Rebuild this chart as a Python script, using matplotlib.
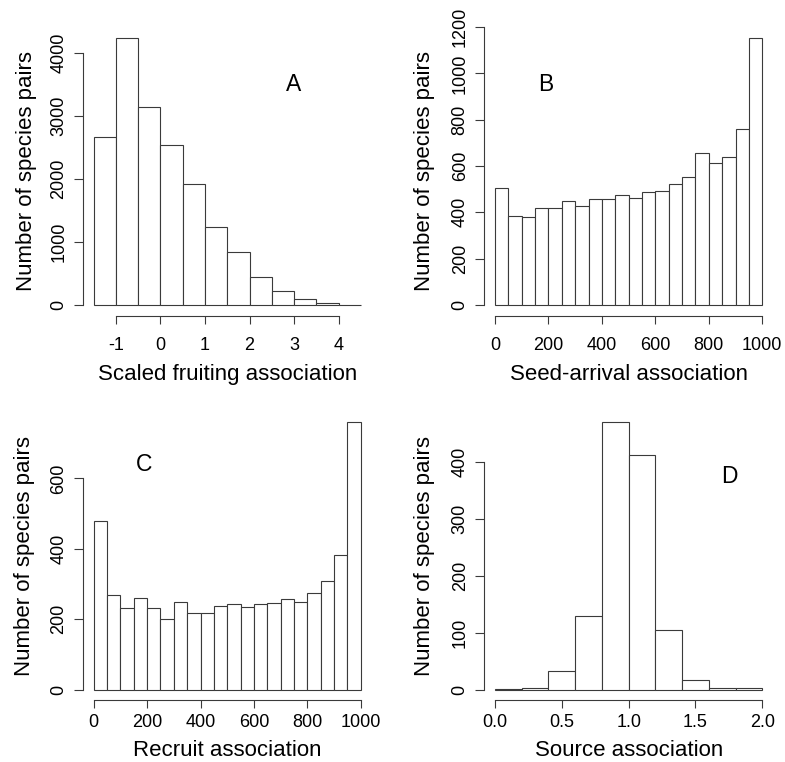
import matplotlib
matplotlib.use("Agg")
import matplotlib.pyplot as plt
import numpy as np
from matplotlib.transforms import ScaledTranslation

plt.rcParams['font.family'] = ['Liberation Sans', 'DejaVu Sans']
plt.rcParams['axes.unicode_minus'] = False

# histogram bins and counts
fruit_edges = [-1.5, -1.0, -0.5, 0.0, 0.5, 1.0, 1.5, 2.0, 2.5, 3.0, 3.5, 4.0, 4.5]
fruit_counts = [2658, 4236, 3143, 2531, 1913, 1231, 840, 439, 222, 90, 27, 5]

seed_edges = [0, 50, 100, 150, 200, 250, 300, 350, 400, 450, 500,
              550, 600, 650, 700, 750, 800, 850, 900, 950, 1000]
seed_counts = [503, 385, 381, 420, 417, 451, 427, 456, 457, 473,
               463, 490, 494, 522, 553, 657, 612, 637, 759, 1154]

recruit_edges = [0, 50, 100, 150, 200, 250, 300, 350, 400, 450, 500,
                 550, 600, 650, 700, 750, 800, 850, 900, 950, 1000]
recruit_counts = [478, 268, 231, 261, 232, 201, 249, 218, 217, 238,
                  242, 236, 243, 245, 258, 250, 273, 309, 383, 761]

source_edges = [0.0, 0.2, 0.4, 0.6, 0.8, 1.0, 1.2, 1.4, 1.6, 1.8, 2.0]
source_counts = [1, 3, 33, 129, 470, 411, 104, 17, 2, 3]

fruit_xticks = [-1, 0, 1, 2, 3, 4]
fruit_yticks = [0, 1000, 2000, 3000, 4000]
seed_xticks = [0, 200, 400, 600, 800, 1000]
seed_yticks = [0, 200, 400, 600, 800, 1000, 1200]
recruit_xticks = [0, 200, 400, 600, 800, 1000]
recruit_yticks = [0, 200, 400, 600]
source_xticks = [0.0, 0.5, 1.0, 1.5, 2.0]
source_xticklabels = ['0.0', '0.5', '1.0', '1.5', '2.0']
source_yticks = [0, 100, 200, 300, 400]

xlabels = ['Scaled fruiting association', 'Seed-arrival association',
           'Recruit association', 'Source association']
ylabel = 'Number of species pairs'
letters = ['A', 'B', 'C', 'D']
letter_pos = [(3.0, 3500), (190, 950), (190, 640), (1.75, 374)]

W, H = 785, 762
fig = plt.figure(figsize=(W / 100, H / 100), dpi=100)

# plot regions in pixels: left, top, right, bottom
boxes = [(83, 27, 371.5, 315.7), (484.3, 27, 773, 315.7),
         (83, 411, 371.5, 700.3), (484.3, 411, 773, 700.3)]

panels = [
    (fruit_edges, fruit_counts, fruit_xticks, None, fruit_yticks),
    (seed_edges, seed_counts, seed_xticks, None, seed_yticks),
    (recruit_edges, recruit_counts, recruit_xticks, None, recruit_yticks),
    (source_edges, source_counts, source_xticks, source_xticklabels, source_yticks),
]

line_col = '#3a3a3a'

for i, (edges, counts, xt, xtl, yt) in enumerate(panels):
    l, t, r, b = boxes[i]
    ax = fig.add_axes([l / W, 1 - b / H, (r - l) / W, (b - t) / H])
    edges = np.array(edges, dtype=float)
    ax.bar(edges[:-1], counts, width=np.diff(edges), align='edge',
           facecolor='white', edgecolor=line_col, linewidth=0.8)

    # R style 4% padding
    xr = edges[-1] - edges[0]
    ax.set_xlim(edges[0] - 0.04 * xr, edges[-1] + 0.04 * xr)
    ax.set_ylim(-0.04 * max(counts), 1.04 * max(counts))

    ax.set_xticks(xt)
    if xtl is not None:
        ax.set_xticklabels(xtl)
    ax.set_yticks(yt)
    for s in ['top', 'right']:
        ax.spines[s].set_visible(False)
    ax.spines['bottom'].set_bounds(xt[0], xt[-1])
    ax.spines['left'].set_bounds(yt[0], yt[-1])
    for s in ['bottom', 'left']:
        ax.spines[s].set_color(line_col)
        ax.spines[s].set_linewidth(0.8)

    top_row = i < 2
    ax.tick_params(axis='x', length=5.8, width=0.8, color=line_col,
                   labelsize=13, pad=9.8 if top_row else 4.3)
    ax.tick_params(axis='y', length=6.2, width=0.8, color=line_col,
                   labelsize=13, pad=5.0, labelrotation=90)
    for lab in ax.get_yticklabels():
        lab.set_va('center')

    # axis titles
    xoff = 64.3 if top_row else 56.0
    ax.text(0.5, 0, xlabels[i], fontsize=16, ha='center', va='baseline',
            transform=ax.transAxes + ScaledTranslation(0, -xoff / 100, fig.dpi_scale_trans))
    yoff = [51, 54, 53.4, 54][i]
    ax.text(0, 0.5, ylabel, fontsize=16, rotation=90, rotation_mode='anchor',
            ha='center', va='baseline',
            transform=ax.transAxes + ScaledTranslation(-yoff / 100, 0, fig.dpi_scale_trans))

    lx, ly = letter_pos[i]
    ax.text(lx, ly, letters[i], fontsize=16.5, ha='center', va='center')

fig.savefig('out.png', dpi=100)
